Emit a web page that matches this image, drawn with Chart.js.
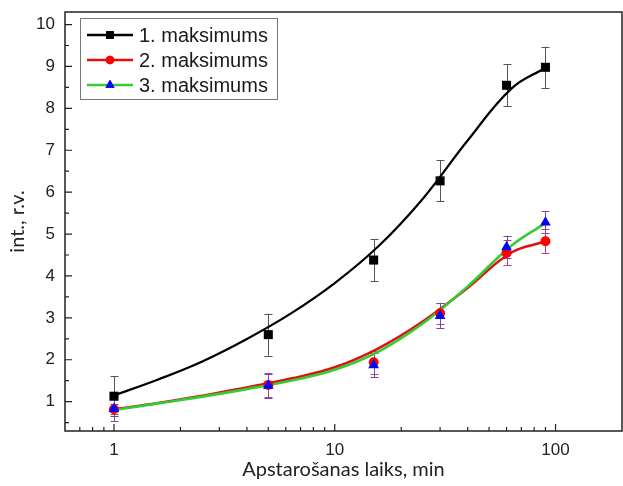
<!DOCTYPE html>
<html><head><meta charset="utf-8">
<script src="https://cdn.jsdelivr.net/npm/chart.js@4"></script>
<style>html,body{margin:0;padding:0;background:#fff}#wrap{width:623px;height:486px;position:relative}</style>
</head><body><div id="wrap"><canvas id="c"></canvas></div>
<script>
// ---- data ----
const seriesNames = ['1. maksimums', '2. maksimums', '3. maksimums'];
const times = [1, 5, 15, 30, 60, 90];
const max1 = [1.13, 2.60, 4.38, 6.27, 8.55, 8.98];
const err1 = [0.48, 0.50, 0.50, 0.49, 0.50, 0.49];
const max2 = [0.82, 1.40, 1.94, 3.11, 4.55, 4.83];
const err2 = [0.12, 0.28, 0.27, 0.25, 0.30, 0.28];
const max3 = [0.83, 1.38, 1.87, 3.05, 4.69, 5.28];
const err3 = [0.30, 0.29, 0.29, 0.30, 0.27, 0.26];
// smooth fit curves at evenly spaced (log) times
const fitT = [1, 1.585, 2.512, 3.981, 6.31, 10, 15.85, 25.12, 39.81, 63.1, 90];
const fit1 = [1.15, 1.53, 1.96, 2.49, 3.10, 3.83, 4.72, 5.85, 7.22, 8.47, 8.97];
const fit2 = [0.82, 0.97, 1.14, 1.34, 1.55, 1.82, 2.28, 2.92, 3.71, 4.56, 4.82];
const fit3 = [0.80, 0.96, 1.12, 1.30, 1.50, 1.76, 2.20, 2.87, 3.74, 4.72, 5.26];
const xTicks = [1, 10, 100];
const xMinor = [0.7, 0.8, 0.9, 2, 3, 4, 5, 6, 7, 8, 9, 20, 30, 40, 50, 60, 70, 80, 90];
const yTicks = [1, 2, 3, 4, 5, 6, 7, 8, 9, 10];
const yMinor = [0.5, 1.5, 2.5, 3.5, 4.5, 5.5, 6.5, 7.5, 8.5, 9.5];
const xTitle = 'Apstarošanas laiks, min';
const yTitle = 'int., r.v.';

const toXY = (xs, ys) => xs.map((x, i) => ({x, y: ys[i]}));

const colors = {
  line: ['#000000', '#e01010', '#33cc33'],
  marker: ['#000000', '#ff0000', '#0000ff'],
  err: ['#555555', '#c04070', '#7048b8'],
  style: ['rect', 'circle', 'triangle'],
  radius: [6.4, 5, 6.2]
};
const errData = [[max1, err1], [max2, err2], [max3, err3]];

const fixArea = {
  id: 'fixArea',
  afterLayout(chart) {
    const a = chart.chartArea, x = chart.scales.x;
    a.right = chart.width - 1; a.width = a.right - a.left;
    x.right = a.right; x.width = x.right - x.left; x.configure();
  }
};

const errorBars = {
  id: 'errorBars',
  beforeDatasetsDraw(chart) {
    const {ctx, scales: {x, y}} = chart;
    ctx.save();
    ctx.lineWidth = 1;
    errData.forEach(([vals, errs], s) => {
      ctx.strokeStyle = colors.err[s];
      times.forEach((t, i) => {
        const px = Math.round(x.getPixelForValue(t)) + 0.5;
        const y1 = y.getPixelForValue(vals[i] + errs[i]);
        const y2 = y.getPixelForValue(vals[i] - errs[i]);
        ctx.beginPath();
        ctx.moveTo(px, y1); ctx.lineTo(px, y2);
        ctx.moveTo(px - 4, Math.round(y1) + 0.5); ctx.lineTo(px + 4, Math.round(y1) + 0.5);
        ctx.moveTo(px - 4, Math.round(y2) + 0.5); ctx.lineTo(px + 4, Math.round(y2) + 0.5);
        ctx.stroke();
      });
    });
    ctx.restore();
  }
};

const frameAndLegend = {
  id: 'frameAndLegend',
  afterDraw(chart) {
    const {ctx, chartArea: a, scales: {x, y}} = chart;
    ctx.save();
    ctx.strokeStyle = '#222';
    ctx.lineWidth = 1.5;
    ctx.strokeRect(a.left, a.top, a.right - a.left, a.bottom - a.top);
    ctx.lineWidth = 1.2;
    ctx.beginPath();
    yTicks.forEach(v => { const p = y.getPixelForValue(v); ctx.moveTo(a.left, p); ctx.lineTo(a.left + 7, p); });
    yMinor.forEach(v => { const p = y.getPixelForValue(v); ctx.moveTo(a.left, p); ctx.lineTo(a.left + 4, p); });
    xTicks.forEach(v => { const p = x.getPixelForValue(v); ctx.moveTo(p, a.bottom); ctx.lineTo(p, a.bottom - 7); });
    xMinor.forEach(v => { const p = x.getPixelForValue(v); ctx.moveTo(p, a.bottom); ctx.lineTo(p, a.bottom - 4); });
    ctx.stroke();
    const lx = 80, ly = 18, lw = 197, lh = 81;
    ctx.fillStyle = '#fff';
    ctx.fillRect(lx, ly, lw, lh);
    ctx.strokeStyle = '#777';
    ctx.lineWidth = 1;
    ctx.strokeRect(lx + 0.5, ly + 0.5, lw, lh);
    ctx.font = '20px "Liberation Sans", Arial, sans-serif';
    ctx.textBaseline = 'middle';
    seriesNames.forEach((name, i) => {
      const cy = ly + 17 + i * 25;
      ctx.strokeStyle = colors.line[i];
      ctx.lineWidth = 2.5;
      ctx.beginPath(); ctx.moveTo(lx + 7, cy); ctx.lineTo(lx + 53, cy); ctx.stroke();
      ctx.fillStyle = colors.marker[i];
      Chart.helpers.drawPoint(ctx, {pointStyle: colors.style[i], radius: colors.radius[i] * 0.85, rotation: 0, borderWidth: 0}, lx + 30, cy);
      ctx.fill();
      ctx.fillStyle = '#1a1a1a';
      ctx.fillText(name, lx + 59, cy + 1);
    });
    ctx.restore();
  }
};

const lineDs = (data, i, order) => ({
  data, showLine: true, borderColor: colors.line[i], borderWidth: i === 0 ? 2.2 : 2.6,
  pointRadius: 0, pointHoverRadius: 0, tension: 0.4, fill: false, order
});
const markDs = (data, i, order, label) => ({
  label, data, showLine: false, pointStyle: colors.style[i], pointRadius: colors.radius[i],
  backgroundColor: colors.marker[i], borderColor: colors.marker[i], borderWidth: 0, order
});
const noPad = s => { s.paddingTop = 0; s.paddingBottom = 0; s.paddingLeft = 0; s.paddingRight = 0; };

new Chart(document.getElementById('c'), {
  type: 'scatter',
  data: {
    datasets: [
      markDs(toXY(times, max3), 2, 1, seriesNames[2]),
      markDs(toXY(times, max2), 1, 2, seriesNames[1]),
      markDs(toXY(times, max1), 0, 3, seriesNames[0]),
      lineDs(toXY(fitT, fit3), 2, 4),
      lineDs(toXY(fitT, fit2), 1, 5),
      lineDs(toXY(fitT, fit1), 0, 6)
    ]
  },
  options: {
    responsive: true, maintainAspectRatio: false, animation: false,
    layout: {padding: {top: 12, right: 1, left: 0, bottom: 0}},
    plugins: {legend: {display: false}, tooltip: {enabled: false}},
    scales: {
      x: {
        type: 'logarithmic', min: 0.6, max: 200,
        grid: {display: false, drawTicks: false}, border: {display: false},
        afterBuildTicks: s => { s.ticks = xTicks.map(v => ({value: v})); },
        afterFit: s => { s.height = 55; noPad(s); },
        ticks: {color: '#222', font: {family: '"Liberation Sans", Arial', size: 17}, padding: 9,
          callback: v => String(v), maxRotation: 0, autoSkip: false},
        title: {display: true, text: xTitle, color: '#222', font: {family: 'Lato', size: 20}, padding: {top: 4, bottom: 4}}
      },
      y: {
        type: 'linear', min: 0.3, max: 10.3,
        grid: {display: false, drawTicks: false}, border: {display: false},
        afterBuildTicks: s => { s.ticks = yTicks.map(v => ({value: v})); },
        afterFit: s => { s.width = 65; noPad(s); },
        ticks: {color: '#222', font: {family: '"Liberation Sans", Arial', size: 17}, padding: 10,
          callback: v => String(v)},
        title: {display: true, text: yTitle, color: '#222', font: {family: 'Lato', size: 20}, padding: {top: 6, bottom: 6}}
      }
    }
  },
  plugins: [fixArea, errorBars, frameAndLegend]
});
</script></body></html>
